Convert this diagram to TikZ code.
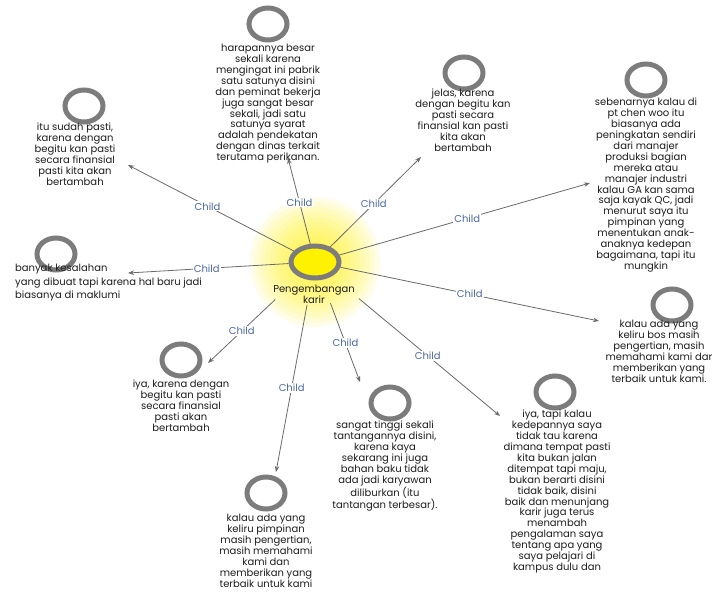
\documentclass[tikz,border=0pt]{standalone}
\usepackage{fontspec}
\setmainfont{Poppins}
\usetikzlibrary{shapes.geometric,arrows.meta}
\definecolor{ringgray}{HTML}{7C7C7C}
\definecolor{linegray}{HTML}{6A6A6A}
\definecolor{childblue}{HTML}{4A68A8}
\definecolor{txtc}{HTML}{1E1E1E}
\begin{document}
\begin{tikzpicture}[x=1pt,y=-1pt,
  ring/.style={ellipse,draw=ringgray,line width=5pt,minimum width=38pt,minimum height=32pt,inner sep=0pt},
  hubring/.style={ring,fill=yellow,minimum width=48pt,minimum height=32pt},
  txt/.style={align=center,text=txtc,inner sep=0pt,anchor=north,font=\fontsize{10}{10.9}\selectfont},
  arr/.style={draw=linegray,line width=0.8pt,-{Stealth[length=6pt,width=4.5pt]}},
  lbl/.style={fill=white,text=childblue,inner sep=1pt,font=\fontsize{10}{10}\selectfont}]
\useasboundingbox (0,0) rectangle (713,592);
\fill[white] (0,0) rectangle (713,592);
% glow
\foreach \r in {5,10,...,65} \fill[yellow,opacity=0.09] (315,262) circle (\r);
% hub
\node[hubring] (c) at (315,262) {};
\node[txt,anchor=center] (cl) at (314,294) {Pengembangan\\karir};
% child circles
\node[ring] (r1) at (268,24) {};
\node[ring] (r2) at (84,106) {};
\node[ring] (r3) at (464,73) {};
\node[ring] (r4) at (646,80) {};
\node[ring] (r5) at (56,254) {};
\node[ring] (r6) at (672,305) {};
\node[ring] (r7) at (181,360) {};
\node[ring] (r8) at (390,403) {};
\node[ring] (r9) at (555,392) {};
\node[ring] (r10) at (266,493) {};
% texts
\node[txt] (t1) at (268,44) {harapannya besar\\sekali karena\\mengingat ini pabrik\\satu satunya disini\\dan peminat bekerja\\juga sangat besar\\sekali, jadi satu\\satunya syarat\\adalah pendekatan\\dengan dinas terkait\\terutama perikanan.};
\node[txt] (t2) at (75,123) {itu sudah pasti,\\karena dengan\\begitu kan pasti\\secara finansial\\pasti kita akan\\bertambah};
\node[txt] (t3) at (463,89) {jelas, karena\\dengan begitu kan\\pasti secara\\finansial kan pasti\\kita akan\\bertambah};
\node[txt] (t4) at (646,98) {sebenarnya kalau di\\pt chen woo itu\\biasanya ada\\peningkatan sendiri\\dari manajer\\produksi bagian\\mereka atau\\manajer industri\\kalau GA kan sama\\saja kayak QC, jadi\\menurut saya itu\\pimpinan yang\\menentukan anak-\\anaknya kedepan\\bagaimana, tapi itu\\mungkin};
\node[txt,anchor=north west,align=left,font=\fontsize{10}{13.5}\selectfont] (t5) at (15,264) {banyak kesalahan\\yang dibuat tapi karena hal baru jadi\\biasanya di maklumi};
\node[txt] (t6) at (659,320) {kalau ada yang\\keliru bos masih\\pengertian, masih\\memahami kami dar\\memberikan yang\\terbaik untuk kami.};
\node[txt] (t7) at (181,380) {iya, karena dengan\\begitu kan pasti\\secara finansial\\pasti akan\\bertambah};
\node[txt] (t8) at (385,421) {sangat tinggi sekali\\tantangannya disini,\\karena kaya\\sekarang ini juga\\bahan baku tidak\\ada jadi karyawan\\diliburkan (itu\\tantangan terbesar).};
\node[txt] (t9) at (557,410) {iya, tapi kalau\\kedepannya saya\\tidak tau karena\\dimana tempat pasti\\kita bukan jalan\\ditempat tapi maju,\\bukan berarti disini\\tidak baik, disini\\baik dan menunjang\\karir juga terus\\menambah\\pengalaman saya\\tentang apa yang\\saya pelajari di\\kampus dulu dan};
\node[txt] (t10) at (266,514) {kalau ada yang\\keliru pimpinan\\masih pengertian,\\masih memahami\\kami dan\\memberikan yang\\terbaik untuk kami};
% arrow tips
\coordinate (e1) at (288,158);
\coordinate (e2) at (128,165);
\coordinate (e3) at (421,157);
\coordinate (e4) at (590,183);
\coordinate (e5) at (128,273);
\coordinate (e6) at (599,321);
\coordinate (e7) at (208,363);
\coordinate (e8) at (360,382);
\coordinate (e9) at (500,416);
\coordinate (e10) at (276,472);
% connectors
\draw[arr] (c) -- node[lbl,pos=0.48] {Child} (e1);
\draw[arr] (c) -- node[lbl,pos=0.52] {Child} (e2);
\draw[arr] (c) -- node[lbl,pos=0.48] {Child} (e3);
\draw[arr] (c) -- node[lbl,pos=0.51] {Child} (e4);
\draw[arr] (c) -- node[lbl,pos=0.51] {Child} (e5);
\draw[arr] (c) -- node[lbl,pos=0.5] {Child} (e6);
\draw[arr,shorten <=33pt] (c) -- node[lbl,pos=0.63] {Child} (e7);
\draw[arr,shorten <=25pt] (c) -- node[lbl,pos=0.62] {Child} (e8);
\draw[arr,shorten <=35pt] (c) -- node[lbl,pos=0.57] {Child} (e9);
\draw[arr,shorten <=25pt] (c) -- node[lbl,pos=0.56] {Child} (e10);
\end{tikzpicture}
\end{document}
